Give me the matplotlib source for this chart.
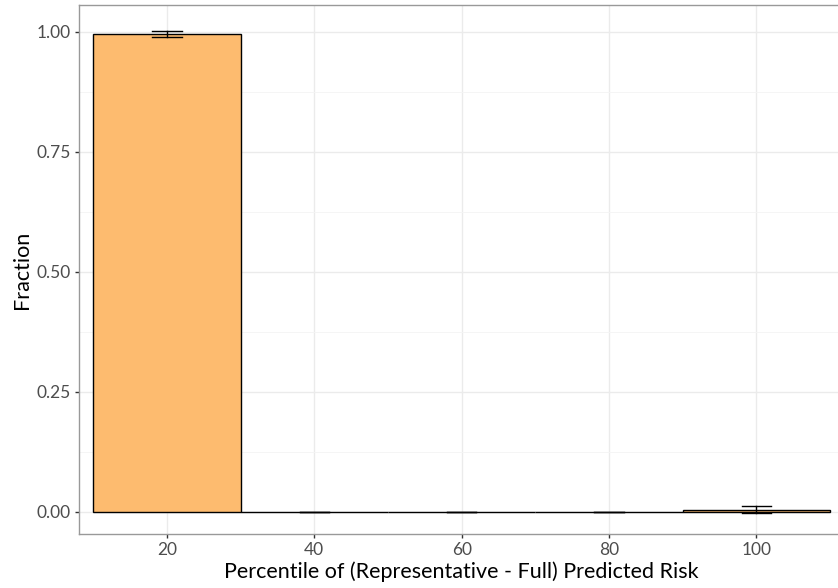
import numpy as np
import matplotlib.pyplot as plt
from matplotlib.ticker import MultipleLocator, FixedLocator

plt.rcParams["font.family"] = ["Lato", "DejaVu Sans"]

# percentile bins (bar centres) and fraction per bin
percentiles = [20, 40, 60, 80, 100]
fractions = [0.9955, 0.0, 0.0, 0.0, 0.004]
err_low = [0.989, 0.0, 0.0, 0.0, -0.003]
err_high = [1.0015, 0.0, 0.0, 0.0, 0.012]

BAR_WIDTH = 20
FILL = "#FDBB6F"

fig = plt.figure(figsize=(8.38, 5.88), dpi=100)
ax = fig.add_axes([79.3 / 838, 1 - 534 / 588, (844 - 79.3) / 838, (534 - 5) / 588])

ax.bar(percentiles, fractions, width=BAR_WIDTH, color=FILL,
       edgecolor="black", linewidth=1.0, zorder=2)

x = np.array(percentiles, dtype=float)
cap = BAR_WIDTH * 0.2 / 2
for xi, lo, hi in zip(x, err_low, err_high):
    ax.plot([xi, xi], [lo, hi], color="black", lw=1.0, zorder=3)
    ax.plot([xi - cap, xi + cap], [lo, lo], color="black", lw=1.0, zorder=3)
    ax.plot([xi - cap, xi + cap], [hi, hi], color="black", lw=1.0, zorder=3)

ax.set_xlim(8.1, 111.9)
ax.set_ylim(-0.0462, 1.0553)

ax.xaxis.set_major_locator(FixedLocator(percentiles))
ax.yaxis.set_minor_locator(MultipleLocator(0.125))
ax.set_yticks([0, 0.25, 0.5, 0.75, 1.0])
ax.set_yticklabels(["0.00", "0.25", "0.50", "0.75", "1.00"])

ax.grid(which="major", color="#EBEBEB", lw=1.0, zorder=0)
ax.grid(which="minor", axis="y", color="#F4F4F4", lw=0.6, zorder=0)
ax.set_axisbelow(True)

for spine in ax.spines.values():
    spine.set_color("#999999")
    spine.set_linewidth(1.0)

ax.tick_params(axis="both", which="major", length=3, width=1.0, color="#333333",
               labelcolor="#4D4D4D", labelsize=12.5, pad=3)
ax.tick_params(axis="both", which="minor", length=0)

ax.set_xlabel("Percentile of (Representative - Full) Predicted Risk",
              fontsize=15.5, color="black", labelpad=2)
ax.set_ylabel("Fraction", fontsize=15.5, color="black", labelpad=3)

fig.savefig("out.png", dpi=100)
